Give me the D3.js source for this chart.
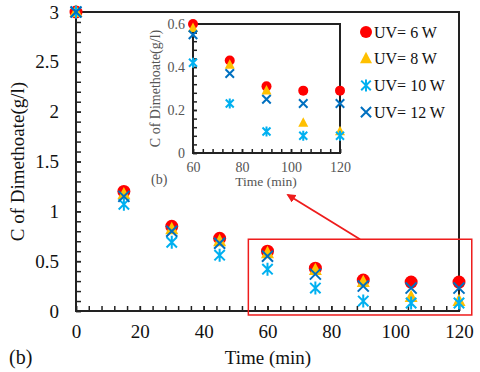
<!DOCTYPE html>
<html>
<head>
<meta charset="utf-8">
<script src="https://cdn.jsdelivr.net/npm/d3@7"></script>
<style>
  body { margin: 0; background: #fff; }
  svg, svg text { font-family: 'Liberation Serif', 'Times New Roman', Times, serif !important; }
</style>
</head>
<body>
<div id="chart"></div>
<script>
// data
const times = [0, 15, 30, 45, 60, 75, 90, 105, 120];
const uv6  = [3, 1.20, 0.85, 0.73, 0.60, 0.43, 0.31, 0.29, 0.29];
const uv8  = [3, 1.17, 0.82, 0.70, 0.58, 0.41, 0.29, 0.14, 0.10];
const uv10 = [3, 1.07, 0.69, 0.56, 0.42, 0.23, 0.10, 0.08, 0.08];
const uv12 = [3, 1.15, 0.80, 0.68, 0.55, 0.37, 0.25, 0.23, 0.23];
const seriesNames = ['UV= 6 W', 'UV= 8 W', 'UV= 10 W', 'UV= 12 W'];

const xTicks = [0, 20, 40, 60, 80, 100, 120];
const yTicks = [0, 0.5, 1, 1.5, 2, 2.5, 3];
const insetXTicks = [60, 80, 100, 120];
const insetYTicks = [0, 0.2, 0.4, 0.6];

const colors = ['#ff0000', '#ffc000', '#00b0f0', '#0070c0'];
const shapes = ['circle', 'triangle', 'star', 'cross'];
const series = [uv6, uv8, uv10, uv12].map((vals, i) => ({
    name: seriesNames[i],
    color: colors[i],
    shape: shapes[i],
    points: times.map((t, j) => ({ t, v: vals[j] }))
}));

const W = 480, H = 372;
const ink = '#222';

const svg = d3.select('#chart').append('svg')
    .attr('width', W)
    .attr('height', H);

// marker path for a given shape, s = half size
const markerPath = (shape, s) => {
    if (shape === 'circle') {
        return d3.symbol(d3.symbolCircle, Math.PI * s * s)();
    }
    if (shape === 'triangle') {
        const h = s * 1.9;
        return `M0,${-h * 0.6}L${s},${h * 0.4}L${-s},${h * 0.4}Z`;
    }
    if (shape === 'star') {
        const d = s * 0.8;
        return `M${-d},${-d}L${d},${d}M${-d},${d}L${d},${-d}M0,${-s}L0,${s}`;
    }
    const d = s * 0.85;
    return `M${-d},${-d}L${d},${d}M${-d},${d}L${d},${-d}`;
};

const isFilled = s => s.shape === 'circle' || s.shape === 'triangle';

const drawMarkers = (g, sx, sy, size, filter) => {
    series.forEach(s => {
        g.append('g')
            .selectAll('path')
            .data(s.points.filter(filter))
            .enter()
            .append('path')
            .attr('transform', d => `translate(${sx(d.t)},${sy(d.v)})`)
            .attr('d', markerPath(s.shape, size))
            .attr('fill', isFilled(s) ? s.color : 'none')
            .attr('stroke', isFilled(s) ? 'none' : s.color)
            .attr('stroke-width', 2);
    });
};

const styleAxis = (g, color, fontSize) => {
    g.attr('font-family', null);
    g.select('.domain').remove();
    g.selectAll('.tick line').attr('stroke', ink).attr('stroke-width', 1.5);
    g.selectAll('.tick text')
        .attr('fill', color)
        .style('font-size', fontSize + 'px');
};

const range = (a, b, step) => d3.range(a, b + step / 2, step);

// ---------- main plot ----------
const x = d3.scaleLinear().domain([0, 120]).range([76, 459]);
const y = d3.scaleLinear().domain([0, 3]).range([311, 12]);

const main = svg.append('g');

// minor ticks
main.append('g')
    .attr('transform', `translate(0,${y(0)})`)
    .call(d3.axisBottom(x).tickValues(range(0, 120, 4)).tickSize(-5).tickFormat(''))
    .call(g => styleAxis(g, ink, 19));
main.append('g')
    .attr('transform', `translate(${x(0)},0)`)
    .call(d3.axisLeft(y).tickValues(range(0, 3, 0.1)).tickSize(-5).tickFormat(''))
    .call(g => styleAxis(g, ink, 19));
// labelled ticks
main.append('g')
    .attr('transform', `translate(0,${y(0)})`)
    .call(d3.axisBottom(x).tickValues(xTicks).tickSize(-5).tickPadding(14).tickFormat(d3.format('d')))
    .call(g => styleAxis(g, '#111', 19));
main.append('g')
    .attr('transform', `translate(${x(0)},0)`)
    .call(d3.axisLeft(y).tickValues(yTicks).tickSize(-5).tickPadding(17).tickFormat(d => d))
    .call(g => styleAxis(g, '#111', 19));

// frame
main.append('rect')
    .attr('x', x(0)).attr('y', y(3))
    .attr('width', x(120) - x(0)).attr('height', y(0) - y(3))
    .attr('fill', 'none')
    .attr('stroke', ink)
    .attr('stroke-width', 2);

drawMarkers(main, x, y, 6.5, () => true);

main.append('text')
    .attr('transform', `translate(24,${(y(0) + y(3)) / 2}) rotate(-90)`)
    .attr('text-anchor', 'middle')
    .attr('fill', '#111')
    .style('font-size', '19px')
    .text('C of  Dimethoate(g/l)');

main.append('text')
    .attr('x', 268).attr('y', 364)
    .attr('text-anchor', 'middle')
    .attr('fill', '#111')
    .style('font-size', '19px')
    .text('Time (min)');

main.append('text')
    .attr('x', 9).attr('y', 364)
    .attr('fill', '#111')
    .style('font-size', '20px')
    .text('(b)');

// ---------- inset ----------
const ix = d3.scaleLinear().domain([60, 120]).range([193, 340]);
const iy = d3.scaleLinear().domain([0, 0.6]).range([153, 24]);
const grey = '#555';

const inset = svg.append('g');
inset.append('rect')
    .attr('x', ix(60)).attr('y', iy(0.6))
    .attr('width', ix(120) - ix(60)).attr('height', iy(0) - iy(0.6))
    .attr('fill', '#fff');

inset.append('g')
    .attr('transform', `translate(0,${iy(0)})`)
    .call(d3.axisBottom(ix).tickValues(range(60, 120, 4)).tickSize(-4).tickFormat(''))
    .call(g => styleAxis(g, ink, 14));
inset.append('g')
    .attr('transform', `translate(${ix(60)},0)`)
    .call(d3.axisLeft(iy).tickValues(range(0, 0.6, 0.04)).tickSize(-4).tickFormat(''))
    .call(g => styleAxis(g, ink, 14));
inset.append('g')
    .attr('transform', `translate(0,${iy(0)})`)
    .call(d3.axisBottom(ix).tickValues(insetXTicks).tickSize(-4).tickPadding(9).tickFormat(d3.format('d')))
    .call(g => styleAxis(g, grey, 14));
inset.append('g')
    .attr('transform', `translate(${ix(60)},0)`)
    .call(d3.axisLeft(iy).tickValues(insetYTicks).tickSize(-4).tickPadding(8).tickFormat(d => d))
    .call(g => styleAxis(g, grey, 14));

inset.append('rect')
    .attr('x', ix(60)).attr('y', iy(0.6))
    .attr('width', ix(120) - ix(60)).attr('height', iy(0) - iy(0.6))
    .attr('fill', 'none')
    .attr('stroke', ink)
    .attr('stroke-width', 2);

drawMarkers(inset, ix, iy, 5, d => d.t >= 60);

inset.append('text')
    .attr('transform', `translate(160,${(iy(0) + iy(0.6)) / 2}) rotate(-90)`)
    .attr('text-anchor', 'middle')
    .attr('fill', grey)
    .style('font-size', '14px')
    .text('C of  Dimethoate(g/l)');

inset.append('text')
    .attr('x', 266).attr('y', 186)
    .attr('text-anchor', 'middle')
    .attr('fill', grey)
    .style('font-size', '13.5px')
    .text('Time (min)');

inset.append('text')
    .attr('x', 151).attr('y', 184)
    .attr('fill', grey)
    .style('font-size', '14px')
    .text('(b)');

// ---------- legend ----------
const legend = svg.append('g')
    .selectAll('g')
    .data(series)
    .enter()
    .append('g')
    .attr('transform', (d, i) => `translate(366,${32 + i * 26.7})`);
legend.append('path')
    .attr('d', d => markerPath(d.shape, 6))
    .attr('fill', d => isFilled(d) ? d.color : 'none')
    .attr('stroke', d => isFilled(d) ? 'none' : d.color)
    .attr('stroke-width', 2);
legend.append('text')
    .attr('x', 8)
    .attr('dy', '0.35em')
    .attr('fill', '#111')
    .style('font-size', '16px')
    .text(d => d.name);

// ---------- zoom box + arrow ----------
const red = '#ee1c1c';
svg.append('defs').append('marker')
    .attr('id', 'arrow')
    .attr('viewBox', '0 0 10 10')
    .attr('refX', 8).attr('refY', 5)
    .attr('markerWidth', 5).attr('markerHeight', 5)
    .attr('orient', 'auto')
    .append('path')
    .attr('d', 'M0,0L10,5L0,10Z')
    .attr('fill', red);

svg.append('rect')
    .attr('x', x(54)).attr('y', y(0.72))
    .attr('width', x(124) - x(54)).attr('height', y(-0.04) - y(0.72))
    .attr('fill', 'none')
    .attr('stroke', red)
    .attr('stroke-width', 1.5);

svg.append('line')
    .attr('x1', 360).attr('y1', y(0.72))
    .attr('x2', 288).attr('y2', 195)
    .attr('stroke', red)
    .attr('stroke-width', 1.8)
    .attr('marker-end', 'url(#arrow)');
</script>
</body>
</html>
